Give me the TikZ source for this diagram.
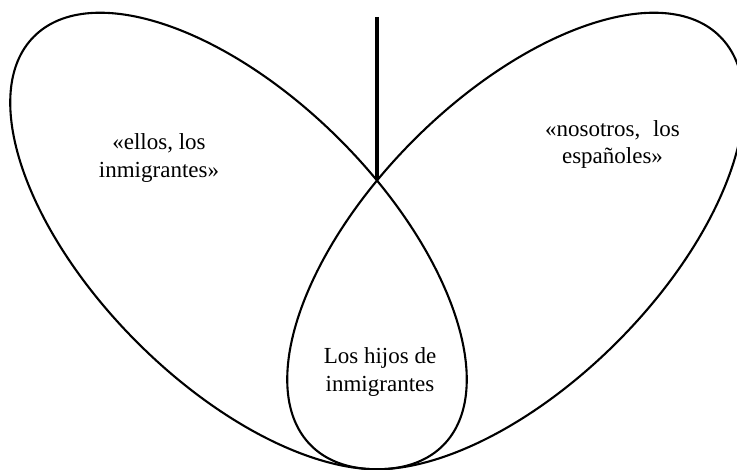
\documentclass[tikz,border=0pt]{standalone}
\usepackage{fontspec}
\setmainfont{Liberation Serif}
\begin{document}
\begin{tikzpicture}[x=1pt,y=1pt,
    oval/.style={line width=2.1pt},
    words/.style={align=center,inner sep=0pt,font=\fontsize{23}{27.5}\selectfont}]
  \clip (0,0) rectangle (737,470);
  \coordinate (top) at (377,453);
  \coordinate (cross) at (377,290);
  \draw[oval,rotate around={-45:(238.5,229)}]
    (238.5,229) ellipse [x radius=289.2,y radius=143.3];
  \draw[oval,rotate around={45:(515.5,229)}]
    (515.5,229) ellipse [x radius=289.2,y radius=143.3];
  \draw[line width=4.5pt] (top) -- (cross);
  \node[words] (them) at (159,312) {«ellos, los\\inmigrantes»};
  \node[words] (us) at (612.5,325.5) {«nosotros,\hspace{0.55em}los\\españoles»};
  \node[words] (children) at (380,98) {Los hijos de\\inmigrantes};
\end{tikzpicture}
\end{document}
